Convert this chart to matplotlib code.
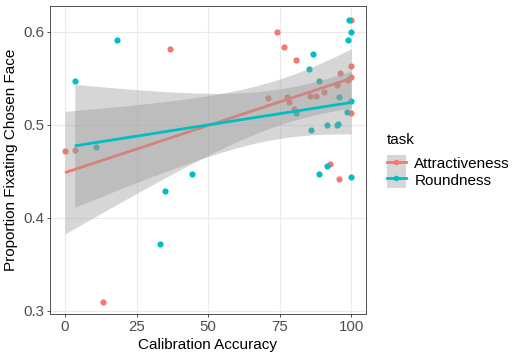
import numpy as np
import matplotlib
matplotlib.use("Agg")
import matplotlib.pyplot as plt
from matplotlib.lines import Line2D
from matplotlib.patches import Patch
from matplotlib.legend_handler import HandlerTuple

plt.rcParams['font.family'] = ['Liberation Sans', 'DejaVu Sans']

# data
attr_x = [0, 3.4, 13.3, 36.7, 70.9, 74.2, 76.5, 77.5, 78.3, 80.2, 80.9, 85.8,
          87.8, 90.4, 92.7, 95.0, 95.7, 96.2, 98.8, 100, 100, 100, 100]
attr_y = [0.472, 0.473, 0.309, 0.581, 0.529, 0.600, 0.583, 0.530, 0.524, 0.517,
          0.570, 0.531, 0.531, 0.535, 0.458, 0.543, 0.442, 0.556, 0.548, 0.613,
          0.563, 0.551, 0.513]
round_x = [3.4, 10.8, 18.1, 33.3, 35.1, 44.5, 80.9, 85.3, 85.9, 86.7, 88.7, 88.9,
           91.5, 91.6, 94.9, 95.3, 95.9, 98.4, 98.8, 99.1, 100, 100, 100]
round_y = [0.547, 0.476, 0.591, 0.372, 0.429, 0.447, 0.513, 0.560, 0.494, 0.576,
           0.547, 0.447, 0.456, 0.500, 0.500, 0.501, 0.530, 0.514, 0.591, 0.613,
           0.600, 0.525, 0.444]

tasks = ['Attractiveness', 'Roundness']
colors = ['#F8766D', '#00BFC4']
xticks = [0, 25, 50, 75, 100]
yticks = [0.3, 0.4, 0.5, 0.6]


def t975(df):
    z = 1.959964
    return (z + (z**3 + z) / (4 * df) + (5 * z**5 + 16 * z**3 + 3 * z) / (96 * df**2)
            + (3 * z**7 + 19 * z**5 + 17 * z**3 - 15 * z) / (384 * df**3))


def lm_band(x, y, n=80):
    x = np.asarray(x, float)
    y = np.asarray(y, float)
    b, a = np.polyfit(x, y, 1)
    res = y - (a + b * x)
    df = len(x) - 2
    s = np.sqrt(np.sum(res**2) / df)
    xs = np.linspace(x.min(), x.max(), n)
    se = s * np.sqrt(1 / len(x) + (xs - x.mean())**2 / np.sum((x - x.mean())**2))
    fit = a + b * xs
    t = t975(df)
    return xs, fit, fit - t * se, fit + t * se


fig = plt.figure(figsize=(5.2, 3.6), dpi=100)
ax = fig.add_axes([50 / 520, 1 - 314 / 360, 316 / 520, 308 / 360])

groups = [(attr_x, attr_y), (round_x, round_y)]
for (gx, gy), c in zip(groups, colors):
    ax.scatter(gx, gy, s=20, color=c, zorder=2, linewidths=0)
# ggplot draws ribbon + line per group, so the second ribbon sits over the first line
for (gx, gy), c in zip(groups, colors):
    xs, fit, lo, hi = lm_band(gx, gy)
    ax.fill_between(xs, lo, hi, color='#999999', alpha=0.4, linewidth=0, zorder=3)
    ax.plot(xs, fit, color=c, lw=2.0, zorder=3, solid_capstyle='butt')

ax.set_xlim(-5.24, 105.2)
ax.set_ylim(0.2965, 0.6276)
ax.set_xticks(xticks)
ax.set_yticks(yticks)
ax.set_yticklabels([f'{v:.1f}' for v in yticks])
ax.grid(True, color='#ebebeb', lw=0.8, zorder=0)
ax.set_axisbelow(True)
for sp in ax.spines.values():
    sp.set_color('#333333')
    sp.set_linewidth(0.6)
ax.tick_params(length=2.5, width=0.6, color='#333333', labelsize=10.8,
               labelcolor='#4d4d4d', pad=1.5)
ax.set_xlabel('Calibration Accuracy', fontsize=11, labelpad=3)
ax.set_ylabel('Proportion Fixating Chosen Face', fontsize=11, labelpad=4)

handles = [(Patch(facecolor='#d6d6d6', edgecolor='none'),
            Line2D([], [], color=c, lw=2, marker='o', markersize=4, markeredgewidth=0))
           for c in colors]
leg = fig.legend(handles, tasks, title='task', loc='upper left',
                 bbox_to_anchor=(373 / 520, 1 - 119 / 360), frameon=False,
                 handler_map={tuple: HandlerTuple(ndivide=1, pad=0)},
                 fontsize=11, title_fontsize=11, handlelength=1.25, handleheight=1.27,
                 labelspacing=0.0, handletextpad=0.55, alignment='left')
leg._legend_box.sep = 6

fig.savefig('out.png', dpi=100)
